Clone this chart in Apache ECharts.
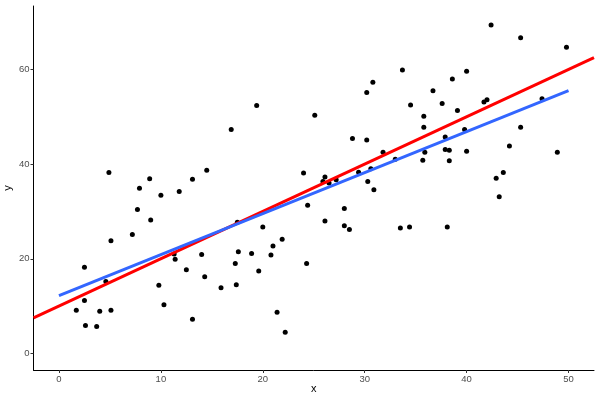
<!DOCTYPE html>
<html>
<head>
<meta charset="utf-8">
<script src="https://cdn.jsdelivr.net/npm/echarts@6/dist/echarts.min.js"></script>
<style>html,body{margin:0;padding:0;background:#fff}#c{width:600px;height:400px}</style>
</head>
<body>
<div id="c"></div>
<script>
const pointX = [33.7,30.8,30.2,34.5,19.4,25.1,16.9,42.4,45.3,49.8,40.0,38.6,36.7,37.6,39.1,41.7,42.0,35.8,35.8,47.4,39.8,45.3,
  4.9,8.9,7.9,10.0,11.8,13.1,14.5,7.7,9.0,7.2,5.1,28.8,30.2,31.8,33.0,29.4,30.6,30.3,30.9,24.0,26.1,25.9,26.5,27.2,24.4,28.0,
  26.1,28.0,28.5,33.5,34.4,20.0,21.9,21.0,17.5,37.9,44.2,48.9,35.9,37.9,38.3,40.0,35.7,38.3,43.6,42.9,43.2,38.1,
  2.5,4.6,2.5,1.7,4.0,5.1,2.6,3.7,9.8,10.3,11.4,11.3,12.5,14.0,14.3,13.1,15.9,17.6,18.9,20.8,17.3,24.3,19.6,17.4,21.4,22.2];
const pointY = [59.9,57.3,55.1,52.5,52.4,50.3,47.3,69.4,66.7,64.7,59.6,58.0,55.5,52.8,51.3,53.1,53.6,50.1,47.8,53.8,47.3,47.8,
  38.2,36.9,34.9,33.4,34.2,36.8,38.7,30.4,28.2,25.1,23.8,45.4,45.1,42.5,41.0,38.3,39.0,36.3,34.6,38.1,37.3,36.3,36.0,36.7,31.3,30.6,
  28.0,27.0,26.2,26.5,26.7,26.7,24.1,22.7,27.7,45.7,43.8,42.5,42.5,43.1,42.9,42.7,40.8,40.7,38.2,37.0,33.1,26.7,
  18.2,15.2,11.2,9.1,8.9,9.1,5.9,5.7,14.4,10.3,19.9,21.0,17.7,20.9,16.2,7.2,13.9,21.5,21.1,20.8,19.0,19.0,17.4,14.5,8.7,4.5];
const fitLineX = [0, 50];
const fitLineY = [12.2, 55.5];
const refLineX = [-2.5, 52.5];
const refLineY = [7.5, 62.5];
const xTicks = [0, 10, 20, 30, 40, 50];
const yTicks = [0, 20, 40, 60];

const pts = pointX.map((x, i) => [x, pointY[i]]);
const fit = fitLineX.map((x, i) => [x, fitLineY[i]]);
const ref = refLineX.map((x, i) => [x, refLineY[i]]);

const chart = echarts.init(document.getElementById('c'), null, {renderer: 'canvas'});
const labelStyle = {color: '#4D4D4D', fontSize: 9.5, fontFamily: 'Liberation Sans, Arial, sans-serif'};
chart.setOption({
  animation: false,
  backgroundColor: '#ffffff',
  grid: {left: 33.5, right: 6, top: 6, bottom: 30, containLabel: false, outerBoundsMode: 'none'},
  xAxis: {
    type: 'value', min: -2.5, max: 52.5,
    name: 'x', nameLocation: 'middle', nameGap: 13, nameMoveOverlap: false,
    nameTextStyle: {color: '#000', fontSize: 11, fontFamily: 'Liberation Sans, Arial, sans-serif'},
    axisLine: {show: true, onZero: false, lineStyle: {color: '#000', width: 1}},
    axisTick: {show: true, length: 3, customValues: xTicks, lineStyle: {color: '#333'}},
    axisLabel: Object.assign({margin: 4, customValues: xTicks}, labelStyle),
    splitLine: {show: false}
  },
  yAxis: {
    type: 'value', min: -3.5, max: 73.4,
    name: 'y', nameLocation: 'middle', nameGap: 20, nameRotate: 90, nameMoveOverlap: false,
    nameTextStyle: {color: '#000', fontSize: 11, fontFamily: 'Liberation Sans, Arial, sans-serif'},
    axisLine: {show: true, onZero: false, lineStyle: {color: '#000', width: 1}},
    axisTick: {show: true, length: 3, customValues: yTicks, lineStyle: {color: '#333'}},
    axisLabel: Object.assign({margin: 4, customValues: yTicks}, labelStyle),
    splitLine: {show: false}
  },
  series: [
    {type: 'scatter', data: pts, symbolSize: 5, itemStyle: {color: '#000', opacity: 1}, z: 2},
    {type: 'line', data: ref, showSymbol: false, lineStyle: {color: '#FF0000', width: 3}, z: 3},
    {type: 'line', data: fit, showSymbol: false, lineStyle: {color: '#3366FF', width: 3}, z: 4}
  ]
});
</script>
</body>
</html>
